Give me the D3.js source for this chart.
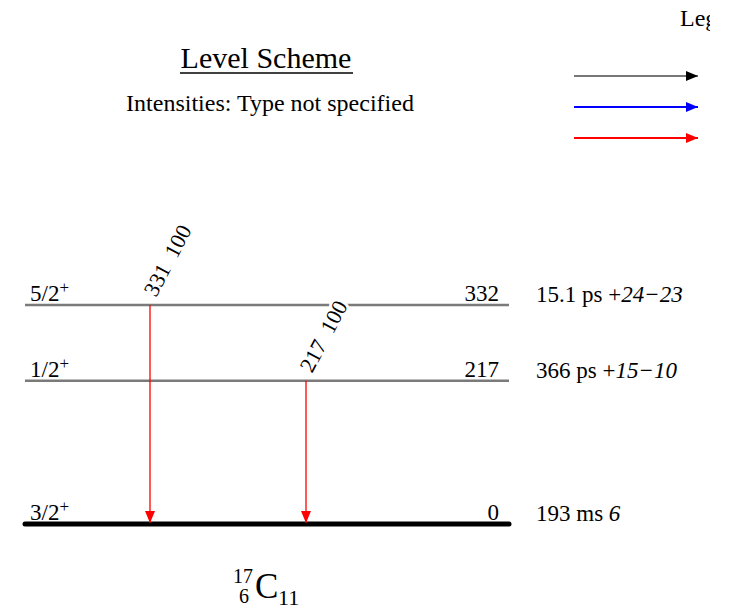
<!DOCTYPE html>
<html>
<head>
<meta charset="utf-8">
<script src="https://cdn.jsdelivr.net/npm/d3@7"></script>
<style>
  body { margin: 0; background: #fff; overflow: hidden; }
  text { font-family: "Liberation Serif", "Times New Roman", serif; }
</style>
</head>
<body>
<script>
// level data
var levelEnergies = [332, 217, 0];
var levelSpins = ["5/2", "1/2", "3/2"];
var levelParities = ["+", "+", "+"];
var halfLives = ["15.1 ps", "366 ps", "193 ms"];
var halfLifeErrors = ["+24\u221223", "+15\u221210", "6"];

// gamma data
var gammaEnergies = [331, 217];
var gammaIntensities = [100, 100];
var gammaFrom = [332, 217];
var gammaTo = [0, 0];

var legendColors = ["black", "blue", "red"];

var width = 730, height = 611;

var svg = d3.select("body").append("svg")
  .attr("width", width)
  .attr("height", height);

var defs = svg.append("defs");
legendColors.forEach(function(c) {
  defs.append("marker")
    .attr("id", "arr-" + c)
    .attr("viewBox", "0 0 12 10")
    .attr("refX", 12).attr("refY", 5)
    .attr("markerWidth", 12).attr("markerHeight", 10)
    .attr("markerUnits", "userSpaceOnUse")
    .attr("orient", "auto")
    .append("path")
    .attr("d", "M0,0L12,5L0,10Z")
    .attr("fill", c);
});
// the original drawing is cut off at x=710
defs.append("clipPath").attr("id", "clip")
  .append("rect").attr("x", 0).attr("y", 0).attr("width", 710).attr("height", height);

// energy scale -> y
var yE = d3.scaleLinear().domain([0, 332]).range([524, 305]);
var xGamma = d3.scaleLinear().domain([0, 1]).range([150, 306]);
var xLevel = d3.scaleLinear().domain([0, 1]).range([25, 509]);

// title
svg.append("text")
  .attr("x", 266).attr("y", 68)
  .attr("text-anchor", "middle")
  .attr("font-size", 30)
  .text("Level Scheme");
svg.append("line")
  .attr("x1", 180).attr("x2", 353)
  .attr("y1", 73).attr("y2", 73)
  .attr("stroke", "black").attr("stroke-width", 1.5);

svg.append("text")
  .attr("x", 270).attr("y", 111)
  .attr("text-anchor", "middle")
  .attr("font-size", 24)
  .text("Intensities: Type not specified");

// legend
svg.append("g").attr("clip-path", "url(#clip)")
  .append("text")
  .attr("x", 680).attr("y", 26)
  .attr("font-size", 24)
  .text("Legend");

legendColors.forEach(function(c, i) {
  svg.append("line")
    .attr("x1", 574).attr("x2", 698)
    .attr("y1", 76 + i * 31).attr("y2", 76 + i * 31)
    .attr("stroke", c === "black" ? "#777" : c)
    .attr("stroke-width", 2)
    .attr("marker-end", "url(#arr-" + c + ")");
});

// levels
var levels = svg.append("g");
levelEnergies.forEach(function(e, i) {
  var y = yE(e);
  var ground = e === 0;
  levels.append("line")
    .attr("x1", xLevel(0)).attr("x2", xLevel(1))
    .attr("y1", y).attr("y2", y)
    .attr("stroke", ground ? "black" : "#7a7a7a")
    .attr("stroke-width", ground ? 5 : 2.5)
    .attr("stroke-linecap", ground ? "round" : "butt");

  var sp = levels.append("text")
    .attr("x", 30).attr("y", y - 4)
    .attr("font-size", 23)
    .text(levelSpins[i]);
  sp.append("tspan")
    .attr("dy", -8).attr("font-size", 17)
    .text(levelParities[i]);

  levels.append("text")
    .attr("x", 499).attr("y", y - 4)
    .attr("text-anchor", "end")
    .attr("font-size", 23)
    .text(e);

  var hl = levels.append("text")
    .attr("x", 536).attr("y", y - 3)
    .attr("font-size", 23)
    .text(halfLives[i] + " ");
  if (i === 2) {
    hl.append("tspan").attr("font-style", "italic").text(halfLifeErrors[i]);
  } else {
    hl.append("tspan").text("+");
    hl.append("tspan").attr("font-style", "italic").text(halfLifeErrors[i].slice(1));
  }
});

// gammas
gammaEnergies.forEach(function(g, i) {
  var x = xGamma(i);
  var y1 = yE(gammaFrom[i]), y2 = yE(gammaTo[i]);
  svg.append("line")
    .attr("x1", x).attr("x2", x)
    .attr("y1", y1).attr("y2", y2 - 1)
    .attr("stroke", "red")
    .attr("stroke-width", 1.3)
    .attr("marker-end", "url(#arr-red)");

  svg.append("text")
    .attr("transform", "translate(" + (x + 6) + "," + (y1 - 7) + ") rotate(-62)")
    .attr("font-size", 22)
    .attr("stroke", "white").attr("stroke-width", 6)
    .attr("paint-order", "stroke")
    .attr("xml:space", "preserve")
    .text(g + "  " + gammaIntensities[i]);
});

// nucleus label
var nuc = svg.append("g");
nuc.append("text").attr("x", 233).attr("y", 583).attr("font-size", 20).text("17");
nuc.append("text").attr("x", 239).attr("y", 603).attr("font-size", 20).text("6");
nuc.append("text").attr("x", 255).attr("y", 598).attr("font-size", 35).text("C");
nuc.append("text").attr("x", 278).attr("y", 605).attr("font-size", 22).text("11");
</script>
</body>
</html>
